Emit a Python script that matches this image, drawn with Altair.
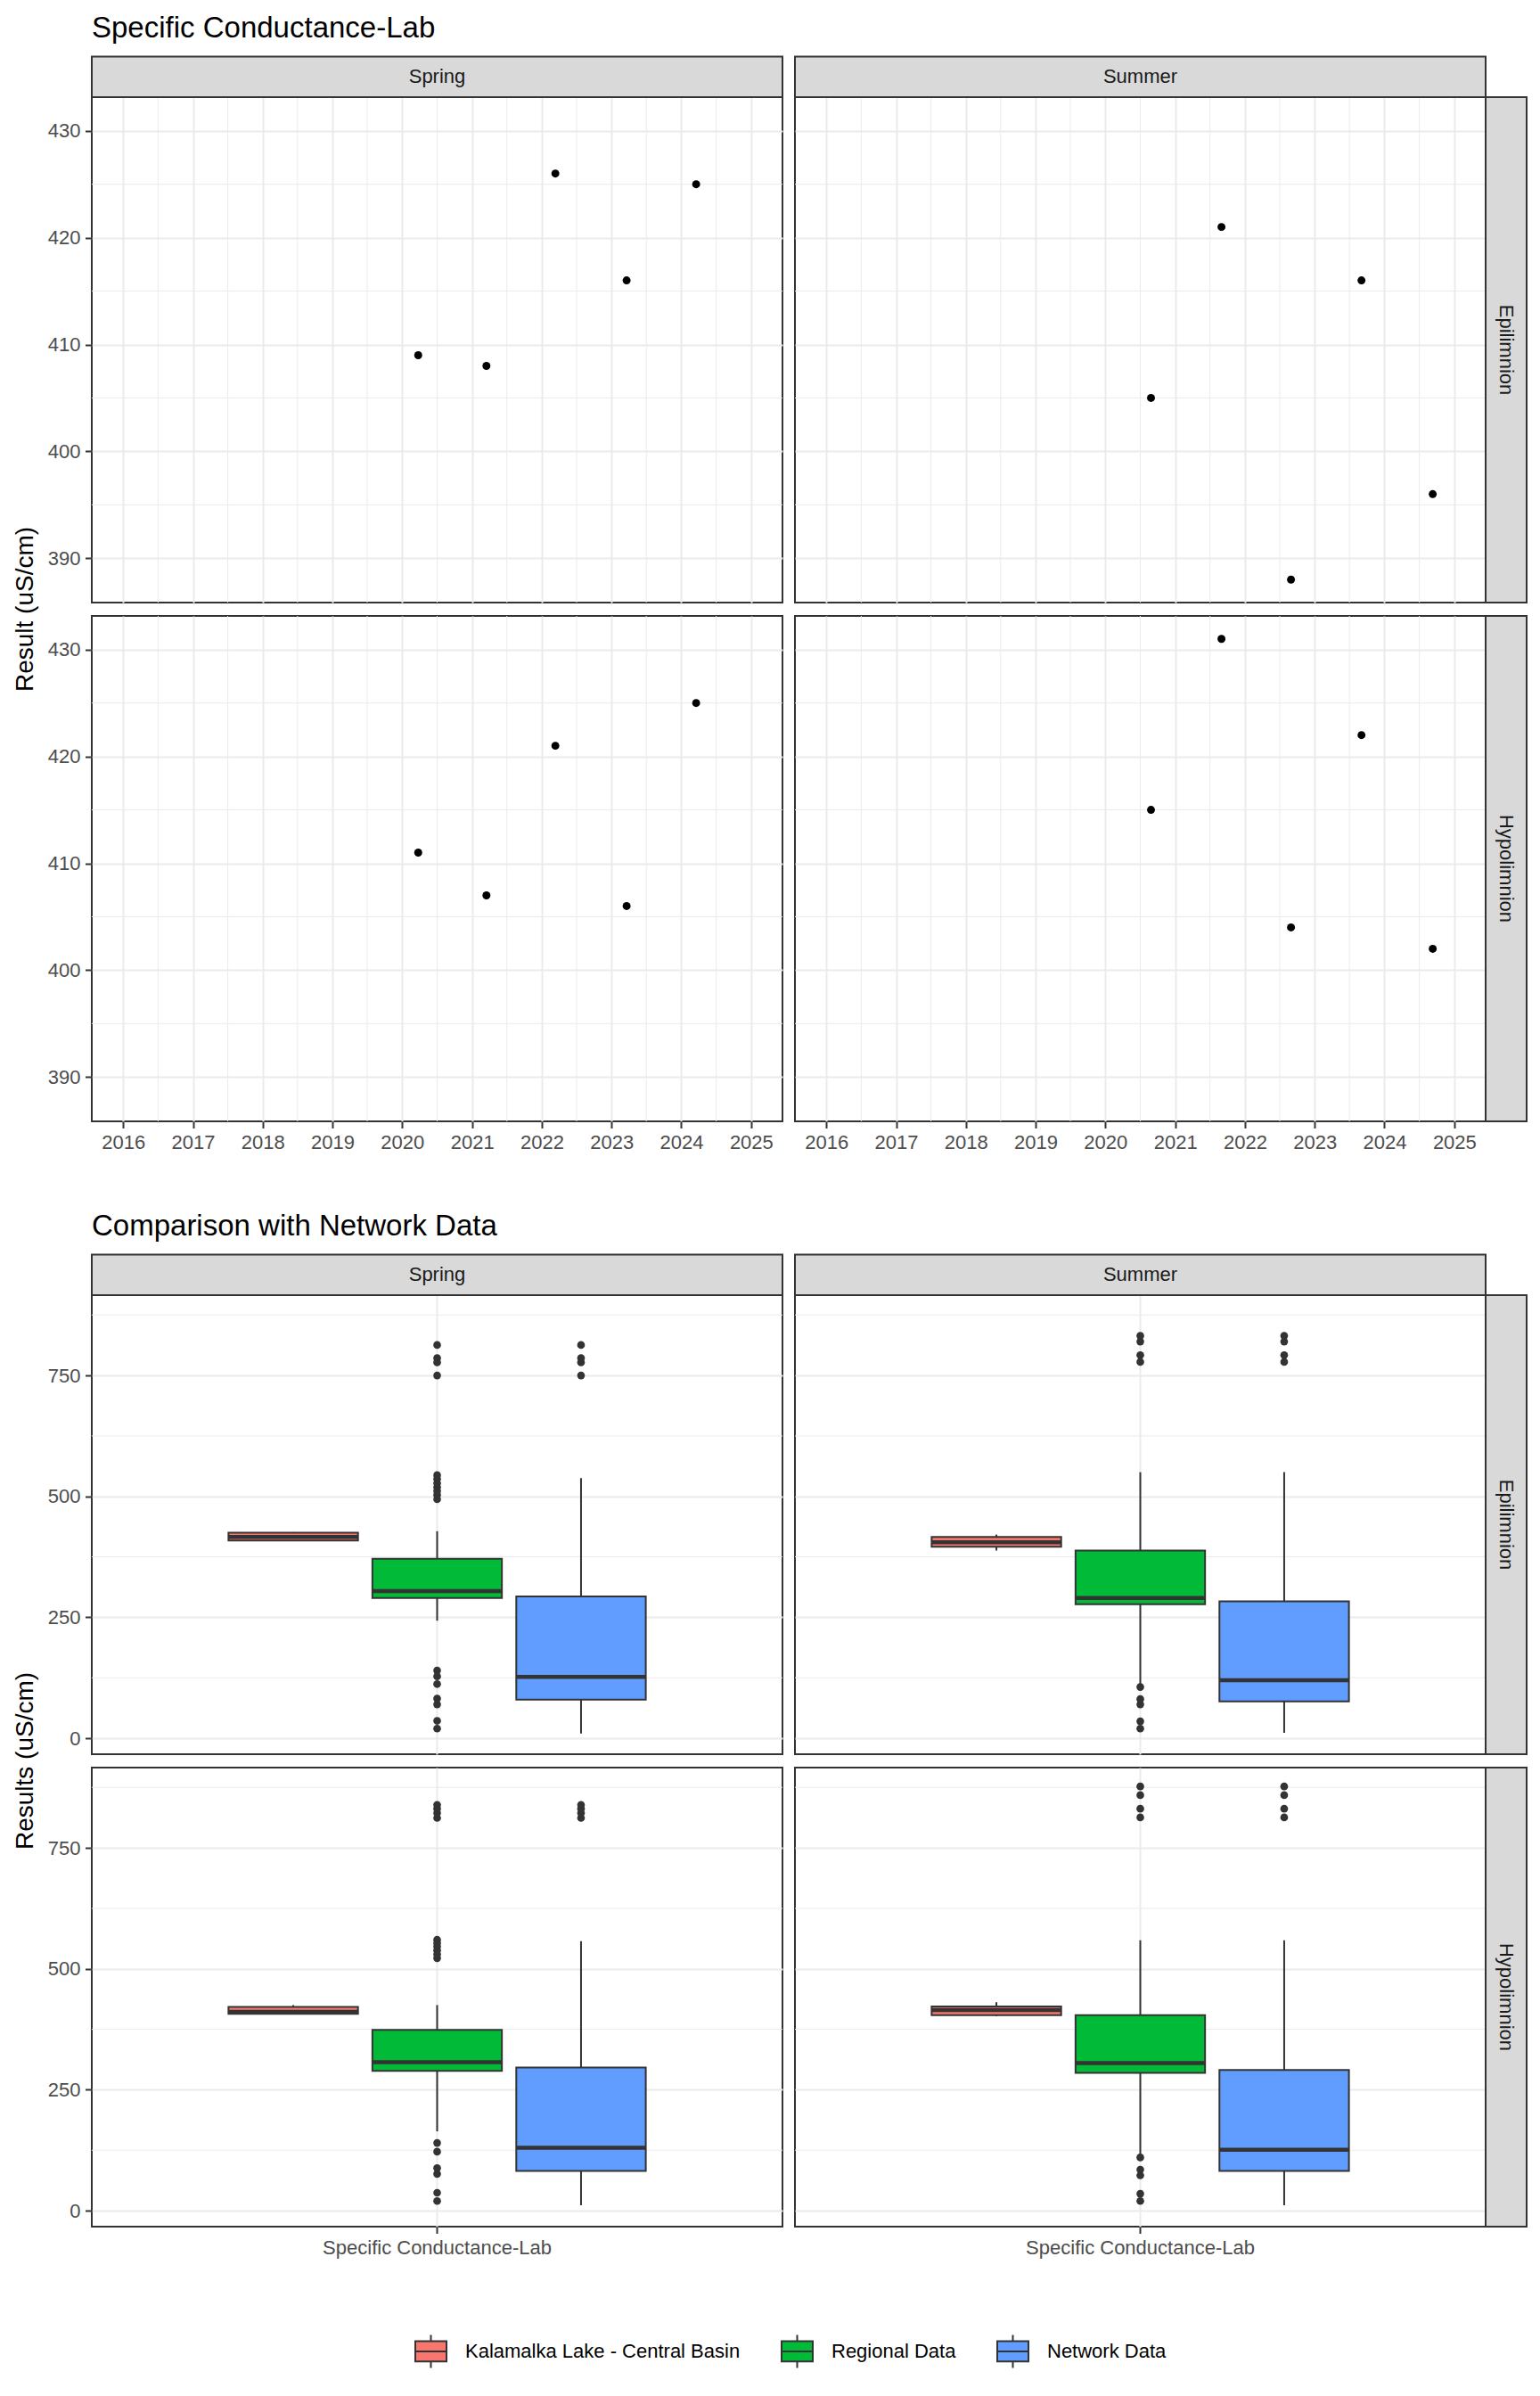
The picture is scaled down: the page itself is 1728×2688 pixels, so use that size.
import altair as alt
import pandas as pd
import numpy as np

FONT = "Liberation Sans"
DARK = "#333333"
GRID = "#EBEBEB"
STRIP_FILL = "#D9D9D9"

# ---------------- data ----------------
seasons = ["Spring", "Summer"]
depths = ["Epilimnion", "Hypolimnion"]

spring_dates = ["2020-03-25", "2021-03-17", "2022-03-13", "2023-03-21", "2024-03-19"]
summer_dates = ["2020-08-27", "2021-08-31", "2022-08-30", "2023-09-03", "2024-09-10"]

spring_epi_values = [409, 408, 426, 416, 425]
spring_hypo_values = [411, 407, 421, 406, 425]
summer_epi_values = [405, 421, 388, 416, 396]
summer_hypo_values = [415, 431, 404, 422, 402]

year_ticks = [2016, 2017, 2018, 2019, 2020, 2021, 2022, 2023, 2024, 2025]
minor_year_dates = ["2016-07-02", "2017-07-02", "2018-07-02", "2019-07-02", "2020-07-02",
                    "2021-07-02", "2022-07-02", "2023-07-02", "2024-07-02"]
y_major_top = [390, 400, 410, 420, 430]
y_minor_top = [395, 405, 415, 425]

category = "Specific Conductance-Lab"
box_groups = ["Kalamalka Lake - Central Basin", "Regional Data", "Network Data"]
box_colors = ["#F8766D", "#00BA38", "#619CFF"]
y_major_box = [0, 250, 500, 750]
y_minor_box = [125, 375, 625, 875]

# panel order: Spring-Epi, Summer-Epi, Spring-Hypo, Summer-Hypo
regional_q1 = [290, 277, 289, 285]
regional_med = [304, 290, 307, 305]
regional_q3 = [371, 388, 374, 404]
regional_lo = [243, 112, 164, 114]
regional_hi = [428, 550, 425, 559]
regional_outliers = [
    [20, 36, 70, 82, 112, 128, 140, 494, 503, 511, 519, 527, 536, 544, 750, 777, 786, 813],
    [20, 35, 70, 81, 106, 778, 792, 820, 832],
    [20, 37, 76, 88, 122, 140, 522, 530, 538, 546, 553, 560, 812, 822, 831, 839],
    [20, 35, 73, 85, 110, 813, 831, 859, 877],
]
network_q1 = [80, 76, 82, 82]
network_med = [127, 120, 130, 126]
network_q3 = [293, 283, 296, 291]
network_lo = [10, 11, 11, 11]
network_hi = [538, 550, 557, 559]
network_outliers = [
    [750, 777, 786, 813],
    [778, 792, 820, 832],
    [812, 822, 831, 839],
    [813, 831, 859, 877],
]

# ---------------- layout constants (style) ----------------
PW = 775
PH_TOP = 567
PH_BOX = 515
STRIP_H = 45.5
RSTRIP_W = 46
ROW_GAP = 15

x_domain_top = [alt.DateTime(year=2015, month=7, date=21), alt.DateTime(year=2025, month=6, date=14)]
y_domain_top = [385.85, 433.15]
y_domain_box = [-33, 916]

BOX_PATH = "M-1,-0.65L1,-0.65L1,0.65L-1,0.65Z M-1,0L1,0 M0,-0.65L0,-1.06 M0,0.65L0,1.06"


def box_stats(values):
    v = np.array(values, dtype=float)
    q1, med, q3 = np.percentile(v, [25, 50, 75])
    iqr = q3 - q1
    lo = v[v >= q1 - 1.5 * iqr].min()
    hi = v[v <= q3 + 1.5 * iqr].max()
    out = v[(v < lo) | (v > hi)].tolist()
    return q1, med, q3, lo, hi, out


def strip_layers(label, ph, top, right, right_label):
    layers = []
    if top:
        d = pd.DataFrame({"label": [label]})
        layers.append(alt.Chart(d).mark_rect(fill=STRIP_FILL, stroke=DARK, strokeWidth=2).encode(
            x=alt.value(0), x2=alt.value(PW), y=alt.value(-STRIP_H), y2=alt.value(0)))
        layers.append(alt.Chart(d).mark_text(font=FONT, fontSize=22, color="#1A1A1A", baseline="middle").encode(
            x=alt.value(PW / 2), y=alt.value(-STRIP_H / 2), text="label:N"))
    if right:
        d = pd.DataFrame({"label": [right_label]})
        layers.append(alt.Chart(d).mark_rect(fill=STRIP_FILL, stroke=DARK, strokeWidth=2).encode(
            x=alt.value(PW), x2=alt.value(PW + RSTRIP_W), y=alt.value(0), y2=alt.value(ph)))
        layers.append(alt.Chart(d).mark_text(font=FONT, fontSize=22, color="#1A1A1A", angle=90,
                                             baseline="middle").encode(
            x=alt.value(PW + RSTRIP_W / 2), y=alt.value(ph / 2), text="label:N"))
    return layers


def title_layers(title, ytitle, ph):
    layers = []
    if title:
        d = pd.DataFrame({"t": [title]})
        layers.append(alt.Chart(d).mark_text(font=FONT, fontSize=33, color="black", align="left",
                                             baseline="alphabetic").encode(
            x=alt.value(0), y=alt.value(-67), text="t:N"))
    if ytitle:
        d = pd.DataFrame({"t": [ytitle]})
        layers.append(alt.Chart(d).mark_text(font=FONT, fontSize=28, color="black", align="center",
                                             baseline="alphabetic", angle=270).encode(
            x=alt.value(-66), y=alt.value(ph + ROW_GAP / 2), text="t:N"))
    return layers


def scatter_panel(season, depth, dates, values, show_x, show_y, top, right, title=None, ytitle=None):
    df = pd.DataFrame({"date": pd.to_datetime(dates), "value": values})
    xscale = alt.Scale(domain=x_domain_top)
    yscale = alt.Scale(domain=y_domain_top, nice=False, zero=False)
    xaxis = alt.Axis(values=[alt.DateTime(year=y, month=1, date=1) for y in year_ticks], format="%Y",
                     labels=show_x, ticks=show_x, title=None, grid=True, labelAngle=0)
    yaxis = alt.Axis(values=y_major_top, labels=show_y, ticks=show_y, title=None, grid=True)
    minor_x = alt.Chart(pd.DataFrame({"d": pd.to_datetime(minor_year_dates)})).mark_rule(
        color=GRID, strokeWidth=1).encode(x=alt.X("d:T", scale=xscale, axis=xaxis))
    minor_y = alt.Chart(pd.DataFrame({"v": y_minor_top})).mark_rule(
        color=GRID, strokeWidth=1).encode(y=alt.Y("v:Q", scale=yscale, axis=yaxis))
    pts = alt.Chart(df).mark_circle(size=80, color="black", opacity=1).encode(
        x=alt.X("date:T", scale=xscale, axis=xaxis),
        y=alt.Y("value:Q", scale=yscale, axis=yaxis))
    layers = [minor_x, minor_y, pts] + strip_layers(season, PH_TOP, top, right, depth) + \
        title_layers(title, ytitle, PH_TOP)
    return alt.layer(*layers).properties(width=PW, height=PH_TOP)


legend = alt.Legend(title=None, orient="none", legendX=362, legendY=2510, direction="horizontal",
                    columns=3, symbolType=BOX_PATH, symbolSize=1225, symbolStrokeColor=DARK,
                    symbolStrokeWidth=2, labelFontSize=22, labelFont=FONT, labelColor="black",
                    labelOffset=20, columnPadding=42, labelLimit=0, padding=0, symbolOpacity=1)


def box_panel(i, kal_values, season, depth, show_x, show_y, top, right, title=None, ytitle=None):
    kq1, kmed, kq3, klo, khi, kout = box_stats(kal_values)
    stats = pd.DataFrame({
        "cat": [category] * 3,
        "group": box_groups,
        "lo": [klo, regional_lo[i], network_lo[i]],
        "q1": [kq1, regional_q1[i], network_q1[i]],
        "med": [kmed, regional_med[i], network_med[i]],
        "q3": [kq3, regional_q3[i], network_q3[i]],
        "hi": [khi, regional_hi[i], network_hi[i]],
    })
    out_vals = kout + regional_outliers[i] + network_outliers[i]
    out_groups = [box_groups[0]] * len(kout) + [box_groups[1]] * len(regional_outliers[i]) + \
        [box_groups[2]] * len(network_outliers[i])
    outs = pd.DataFrame({"cat": [category] * len(out_vals), "group": out_groups, "value": out_vals})

    yscale = alt.Scale(domain=y_domain_box, nice=False, zero=False)
    yaxis = alt.Axis(values=y_major_box, labels=show_y, ticks=show_y, title=None, grid=True)
    xaxis = alt.Axis(title=None, labels=show_x, ticks=show_x, grid=True, labelAngle=0, bandPosition=0.5,
                     labelLimit=1000)
    xenc = alt.X("cat:N", scale=alt.Scale(domain=[category], paddingInner=0, paddingOuter=0.3), axis=xaxis)
    xo = alt.XOffset("group:N", scale=alt.Scale(domain=box_groups, paddingInner=0.1, paddingOuter=0.05))

    minor_y = alt.Chart(pd.DataFrame({"v": y_minor_box})).mark_rule(
        color=GRID, strokeWidth=1).encode(y=alt.Y("v:Q", scale=yscale, axis=yaxis))
    whisk = alt.Chart(stats).mark_rule(color=DARK, strokeWidth=2).encode(
        x=xenc, xOffset=xo, y=alt.Y("lo:Q", scale=yscale, axis=yaxis), y2="hi:Q")
    box = alt.Chart(stats).mark_bar(stroke=DARK, strokeWidth=2, opacity=1).encode(
        x=xenc, xOffset=xo, y=alt.Y("q1:Q", scale=yscale, axis=yaxis), y2="q3:Q",
        color=alt.Color("group:N", scale=alt.Scale(domain=box_groups, range=box_colors), legend=legend))
    med = alt.Chart(stats).mark_tick(orient="horizontal", size=145.3, thickness=4.5, color=DARK, opacity=1).encode(
        x=xenc, xOffset=xo, y=alt.Y("med:Q", scale=yscale, axis=yaxis))
    pts = alt.Chart(outs).mark_circle(size=75, color=DARK, opacity=1).encode(
        x=xenc, xOffset=xo, y=alt.Y("value:Q", scale=yscale, axis=yaxis))
    layers = [minor_y, whisk, box, med, pts] + strip_layers(season, PH_BOX, top, right, depth) + \
        title_layers(title, ytitle, PH_BOX)
    return alt.layer(*layers).properties(width=PW, height=PH_BOX)


def spacer():
    return alt.Chart(pd.DataFrame({"a": [0]})).mark_point(opacity=0).encode(
        x=alt.value(0), y=alt.value(0)).properties(width=PW, height=165,
                                                   view=alt.ViewBackground(stroke="transparent"))


A = scatter_panel("Spring", "Epilimnion", spring_dates, spring_epi_values, False, True, True, False,
                  title="Specific Conductance-Lab", ytitle="Result (uS/cm)")
B = scatter_panel("Summer", "Epilimnion", summer_dates, summer_epi_values, False, False, True, True)
C = scatter_panel("Spring", "Hypolimnion", spring_dates, spring_hypo_values, True, True, False, False)
D = scatter_panel("Summer", "Hypolimnion", summer_dates, summer_hypo_values, True, False, False, True)

E = box_panel(0, spring_epi_values, "Spring", "Epilimnion", False, True, True, False,
              title="Comparison with Network Data", ytitle="Results (uS/cm)")
F = box_panel(1, summer_epi_values, "Summer", "Epilimnion", False, False, True, True)
G = box_panel(2, spring_hypo_values, "Spring", "Hypolimnion", True, True, False, False)
H = box_panel(3, summer_hypo_values, "Summer", "Hypolimnion", True, False, False, True)

chart = alt.concat(A, B, C, D, spacer(), spacer(), E, F, G, H, columns=2,
                   spacing={"row": ROW_GAP, "column": 14}, bounds="flush", align="each").resolve_scale(
    x="independent", y="independent", xOffset="independent", color="shared"
).properties(
    padding={"left": 6, "top": 7, "right": 5, "bottom": 5},
    background="white",
).configure(font=FONT).configure_axis(
    gridColor=GRID, gridWidth=2, tickColor=DARK, tickWidth=2, tickSize=7.5,
    labelColor="#4D4D4D", labelFontSize=22, labelFont=FONT, domain=False, labelPadding=5.5,
    labelLimit=1000,
).configure_view(stroke=DARK, strokeWidth=2)

chart.save("out.html", embed_options={"renderer": "svg", "actions": False})
